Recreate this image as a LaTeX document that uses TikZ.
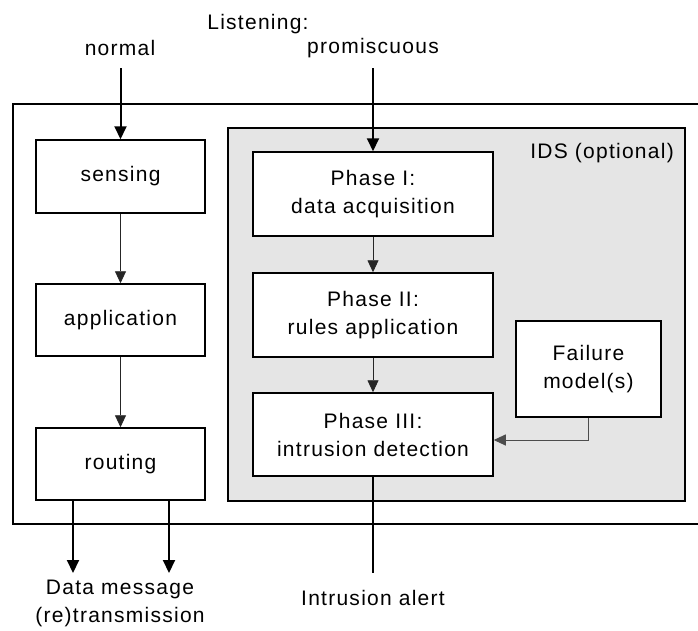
\documentclass[tikz,border=0pt]{standalone}
\usepackage{fontspec}
\setmainfont[LetterSpace=6]{Liberation Sans}
\usetikzlibrary{arrows.meta}
\begin{document}
\begin{tikzpicture}[x=1pt,y=-1pt,
  every node/.style={font=\fontsize{21}{28}\selectfont},
  blk/.style={draw=black,line width=1.5pt,fill=white,align=center,inner sep=0pt},
  lbl/.style={align=center,inner sep=0pt},
  thin arrow/.style={draw=black!85,line width=0.9pt,-{Triangle[width=11pt,length=12pt]}},
  thick arrow/.style={draw=black,line width=2pt,-{Triangle[width=12pt,length=13pt]}},
  feed/.style={draw=black!70,line width=0.9pt,-{Triangle[width=11pt,length=12pt]}}]
\useasboundingbox (0,0) rectangle (698,630);
\fill[white] (0,0) rectangle (698,630);

% node enclosure (right side runs off the page)
\draw[line width=1.6pt] (710,104) -- (13,104) -- (13,524) -- (710,524);

% IDS area
\draw[line width=1.5pt,fill=black!10] (228,128) rectangle (685,501);
\node[lbl,anchor=north east] (ids) at (674,143) {IDS (optional)};

% stack on the left
\node[blk,minimum width=169pt,minimum height=73pt] (sens) at (120.5,176.5) {sensing};
\node[blk,minimum width=169pt,minimum height=72pt] (app) at (120.5,320) {application};
\node[blk,minimum width=169pt,minimum height=72pt] (rout) at (120.5,464) {routing};

% IDS phases
\node[blk,minimum width=240pt,minimum height=84pt] (p1) at (373,194) {Phase I:\\data acquisition};
\node[blk,minimum width=240pt,minimum height=84pt] (p2) at (373,315) {Phase II:\\rules application};
\node[blk,minimum width=240pt,minimum height=83pt] (p3) at (373,434.5) {Phase III:\\intrusion detection};
\node[blk,minimum width=145pt,minimum height=96pt] (fail) at (588.5,369) {Failure\\model(s)};

% outside labels
\node[lbl] (nrm) at (120,48) {normal};
\node[lbl] (lst) at (258,24) {Listening:};
\node[lbl] (prm) at (373,48) {promiscuous};
\node[lbl] (dmsg) at (120,603) {Data message\\(re)transmission};
\node[lbl] (alert) at (373,598) {Intrusion alert};

% free ends of the outside connectors
\coordinate (nrmend) at (120.5,68);
\coordinate (prmend) at (373,68);
\coordinate (out1) at (73,573);
\coordinate (out2) at (169,573);
\coordinate (alertend) at (373,573);

% connectors
\draw[thick arrow] (nrmend) -- (sens.north);
\draw[thick arrow] (prmend) -- (p1.north);
\draw[thin arrow] (sens) -- (app);
\draw[thin arrow] (app) -- (rout);
\draw[thin arrow] (p1) -- (p2);
\draw[thin arrow] (p2) -- (p3);
\draw[feed] (fail.south) |- (p3.east |- 0,440);
\draw[thick arrow] (rout.south -| out1) -- (out1);
\draw[thick arrow] (rout.south -| out2) -- (out2);
\draw[line width=2pt] (p3.south) -- (alertend);
\end{tikzpicture}
\end{document}
